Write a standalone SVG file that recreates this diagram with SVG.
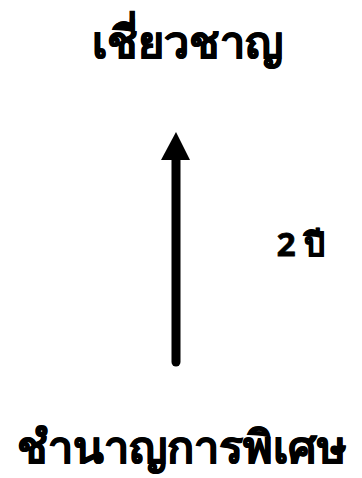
<svg xmlns="http://www.w3.org/2000/svg" width="362" height="478" viewBox="0 0 362 478">
<style>
.t{font-family:"Noto Sans","DejaVu Sans",sans-serif;font-weight:bold;fill:#000;stroke:#000;stroke-width:0.8;text-anchor:middle}
</style>
<rect width="362" height="478" fill="#fff"/>
<g id="node-top"><text class="t" x="187" y="58" font-size="45">เชี่ยวชาญ</text></g>
<g id="node-bottom"><text class="t" x="182" y="463" font-size="45">ชำนาญการพิเศษ</text></g>
<g id="connectors">
<line x1="176" y1="362" x2="176" y2="160" stroke="#000" stroke-width="9" stroke-linecap="round"/>
<path d="M176,132 L190,160 L161,160 Z" fill="#000"/>
<text class="t" x="301" y="256" font-size="33">2 ปี</text>
</g>
</svg>
